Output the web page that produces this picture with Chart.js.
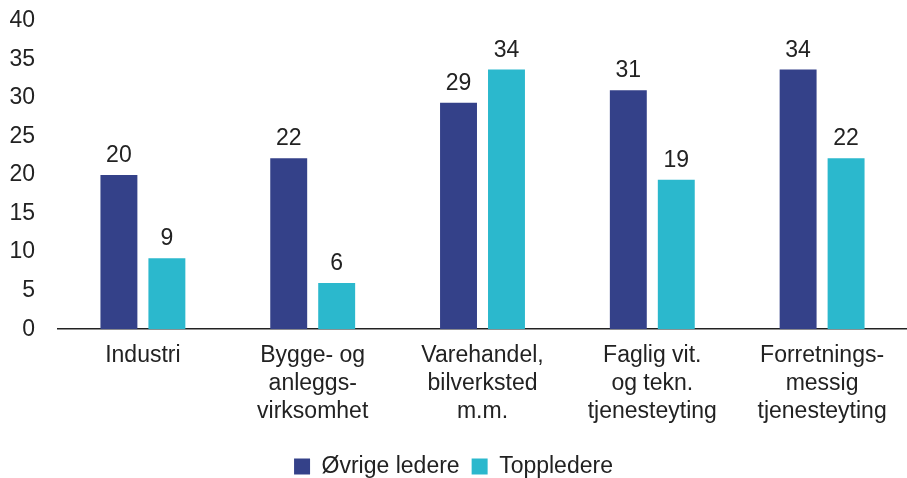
<!DOCTYPE html>
<html>
<head>
<meta charset="utf-8">
<script src="https://cdn.jsdelivr.net/npm/chart.js@4"></script>
<style>
  html, body { margin: 0; padding: 0; background: #fff; }
  #wrap { width: 907px; height: 478px; }
</style>
</head>
<body>
<div id="wrap"><canvas id="barChart" width="907" height="478"></canvas></div>
<script>
const categories = [
  'Industri',
  ['Bygge- og', 'anleggs-', 'virksomhet'],
  ['Varehandel,', 'bilverksted', 'm.m.'],
  ['Faglig vit.', 'og tekn.', 'tjenesteyting'],
  ['Forretnings-', 'messig', 'tjenesteyting'],
];

const ovrigeLedere = [20, 22.2, 29.4, 31, 33.7];
const toppledere = [9.2, 6, 33.7, 19.4, 22.2];

const yTicks = [0, 5, 10, 15, 20, 25, 30, 35, 40];

const textColor = '#222222';
const fontFamily = '"Liberation Sans", Arial, sans-serif';
Chart.defaults.font.family = fontFamily;
Chart.defaults.font.size = 23;
Chart.defaults.color = textColor;

// value labels above each bar
const valueLabels = {
  id: 'valueLabels',
  afterDatasetsDraw(chart) {
    const ctx = chart.ctx;
    ctx.save();
    ctx.font = '23px ' + fontFamily;
    ctx.fillStyle = textColor;
    ctx.textAlign = 'center';
    ctx.textBaseline = 'alphabetic';
    chart.data.datasets.forEach((ds, i) => {
      chart.getDatasetMeta(i).data.forEach((bar, j) => {
        ctx.fillText(Math.round(ds.data[j]), bar.x, bar.y - 13);
      });
    });
    ctx.restore();
  }
};

const data = {
  labels: categories,
  datasets: [
    {
      label: 'Øvrige ledere',
      backgroundColor: '#344189',
      data: ovrigeLedere,
    },
    {
      label: 'Toppledere',
      backgroundColor: '#2bb8cd',
      data: toppledere,
    }
  ]
};

const config = {
  type: 'bar',
  data: data,
  plugins: [valueLabels],
  options: {
    responsive: false,
    animation: false,
    layout: { padding: { left: 0, right: 0, top: 21, bottom: -10 } },
    datasets: {
      bar: { categoryPercentage: 0.565, barPercentage: 0.77 }
    },
    scales: {
      x: {
        grid: { display: false, drawTicks: false },
        border: { display: true, color: '#222222', width: 1.5 },
        ticks: { padding: 13, font: { size: 23, lineHeight: 1.2 }, maxRotation: 0, autoSkip: false },
        afterFit: axis => { axis.height += 5; }
      },
      y: {
        min: 0,
        max: 40,
        afterBuildTicks: axis => { axis.ticks = yTicks.map(v => ({ value: v })); },
        afterFit: axis => {
          axis.width = 58;
          axis.paddingTop = 0;
          axis.paddingBottom = 0;
        },
        grid: { display: false, drawTicks: false },
        border: { display: false },
        ticks: { padding: 23, font: { size: 23 } }
      }
    },
    plugins: {
      tooltip: { enabled: false },
      legend: {
        position: 'bottom',
        labels: { boxWidth: 16, boxHeight: 16, padding: 12, font: { size: 23 } }
      }
    }
  }
};

const myChart = new Chart(document.getElementById('barChart'), config);
</script>
</body>
</html>
